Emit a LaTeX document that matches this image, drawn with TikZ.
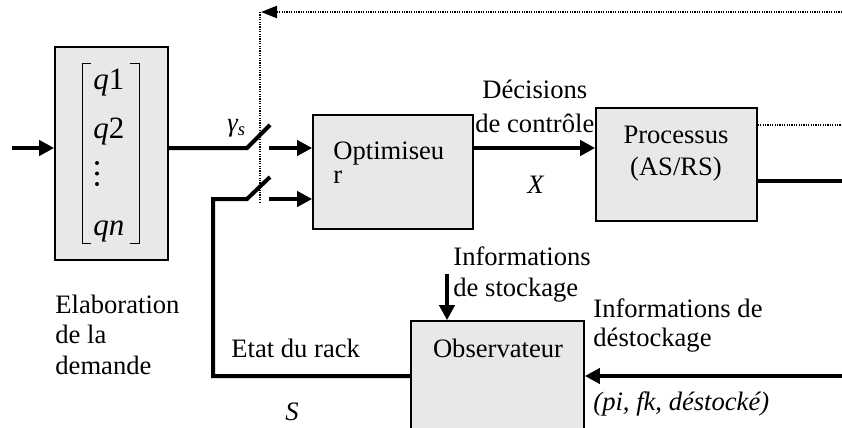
\documentclass[tikz,border=0pt]{standalone}
\usepackage{fontspec}
\setmainfont{Liberation Serif}
\usetikzlibrary{arrows.meta,fit}
\definecolor{boxgray}{RGB}{232,232,232}
\begin{document}
\begin{tikzpicture}[x=0.5pt,y=-0.5pt,
  box/.style={draw, line width=0.8pt, fill=boxgray, inner sep=0pt},
  txt/.style={inner sep=0pt, font=\fontsize{13.3}{15}\selectfont},
  mtxt/.style={inner sep=0pt, font=\fontsize{15.5}{17}\selectfont},
  thk/.style={line width=2pt},
  arr/.style={line width=2pt, -{Triangle[length=7.5pt,width=7.5pt]}},
  dotl/.style={line width=1pt, dash pattern=on 0.6pt off 0.6pt},
]
\useasboundingbox (0,0) rectangle (842,428);

% boxes
\node[box, fit={(55,47)(168,260)}] (elab) {};
\node[box, fit={(313,115)(473,229)}] (opt) {};
\node[box, fit={(596,108)(757,221)}] (proc) {};
\node[box, fit={(411,321)(584,445)}] (obs) {};

% matrix brackets
\draw[line width=0.5pt] (91,63) -- (82,63) -- (82,243) -- (91,243);
\draw[line width=0.5pt] (130,63) -- (139,63) -- (139,243) -- (130,243);
\node[mtxt, anchor=base west] (q1) at (93,90) {\textit{q}1};
\node[mtxt, anchor=base west] (q2) at (93,138) {\textit{q}2};
\fill (97,163) circle[radius=2];
\fill (97,173.5) circle[radius=2];
\fill (97,184) circle[radius=2];
\node[mtxt, anchor=base west] (qn) at (93,235) {\textit{qn}};

% texts
\node[txt, anchor=base west] (el1) at (55,313) {Elaboration};
\node[txt, anchor=base west] (el2) at (55,343) {de la};
\node[txt, anchor=base west] (el3) at (55,374) {demande};
\node[txt, anchor=base west] (gam) at (227,131) {\textit{γ\textsubscript{s}}};
\node[txt, anchor=north west, align=left, font=\fontsize{13.3}{12.2}\selectfont] (op) at (333,141) {Optimiseu\\r};
\node[txt, anchor=base west] (dc1) at (482,98) {Décisions};
\node[txt, anchor=base west] (dc2) at (475,132) {de contrôle};
\node[txt, anchor=base] (xl) at (536,193) {\textit{X}};
\node[txt, anchor=base] (pr1) at (676,143) {Processus};
\node[txt, anchor=base] (pr2) at (676,175) {(AS/RS)};
\node[txt, anchor=base] (ob) at (498,357) {Observateur};
\node[txt, anchor=base west] (et) at (231,357) {Etat du rack};
\node[txt, anchor=base] (sl) at (292,420) {\textit{S}};
\node[txt, anchor=base west] (is1) at (453,265) {Informations};
\node[txt, anchor=base west] (is2) at (453,296) {de stockage};
\node[txt, anchor=base west] (id1) at (593,317) {Informations de};
\node[txt, anchor=base west] (id2) at (593,346) {déstockage};
\node[txt, anchor=base west] (pf) at (593,410) {\textit{(pi, fk, déstocké)}};

% connectors
\coordinate (inS) at (12,148);
\draw[arr] (inS) -- (inS -| elab.west);
\coordinate (s1a) at (247,148);
\coordinate (s1b) at (270,125);
\draw[thk] (elab.east |- s1a) -- (s1a) -- (s1b);
\coordinate (a1) at (269,148);
\draw[arr] (a1) -- (a1 -| opt.west);
\coordinate (s2a) at (247,199);
\coordinate (s2b) at (270,177);
\coordinate (c1) at (213,376);
\draw[thk] (obs.west |- c1) -- (c1) -- (c1 |- s2a) -- (s2a) -- (s2b);
\coordinate (a2) at (269,199);
\draw[arr] (a2) -- (a2 -| opt.west);
\coordinate (xa) at (480,148);
\draw[arr] (opt.east |- xa) -- (proc.west |- xa);
\coordinate (pout) at (842,181);
\draw[thk] (pout -| proc.east) -- (pout);
\coordinate (pdot) at (842,125);
\draw[dotl] (pdot -| proc.east) -- (pdot);
\coordinate (tr) at (842,12);
\coordinate (tl) at (261,12);
\coordinate (vb) at (260,202);
\draw[dotl, -{Triangle[length=8pt,width=6pt]}] (tr) -- (tl);
\draw[dotl] (tl -| vb) -- (vb);
\coordinate (oin) at (842,376);
\draw[arr] (oin) -- (oin -| obs.east);
\coordinate (st) at (447,274);
\draw[arr] (st) -- (st |- obs.north);
\end{tikzpicture}
\end{document}
